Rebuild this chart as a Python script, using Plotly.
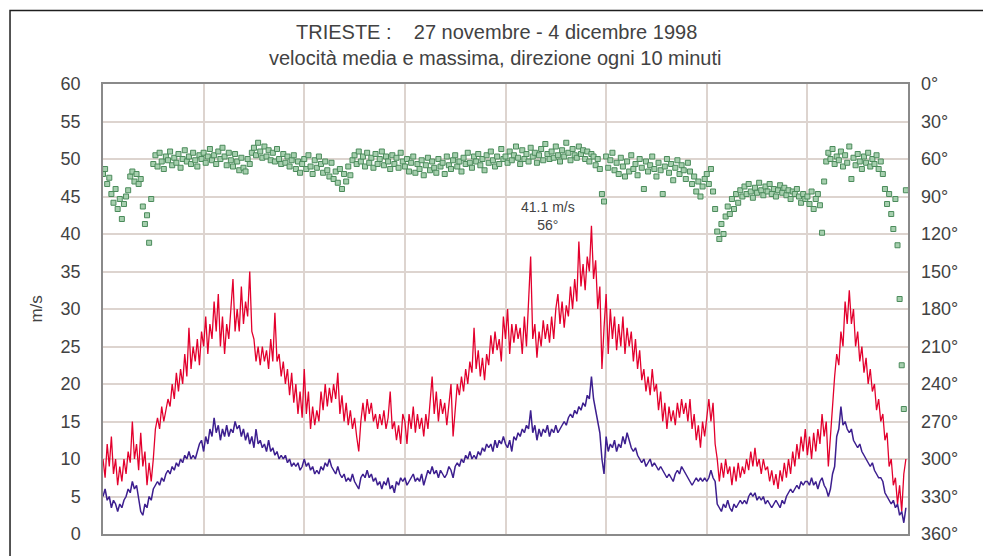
import numpy as np
import pandas as pd
import plotly.graph_objects as go

# Half-hourly samples, 27 Nov 1998 00:00 - 4 Dec 1998 23:30 (one row per day)
max_speed = [
    10, 7.5, 12, 9, 13, 8, 10, 6.5, 9, 7, 10, 8, 11, 9.5, 15, 10, 12, 8.5, 13.5, 9, 11, 6.5, 9.5, 7,
    10, 14, 15.5, 14, 17, 15, 16.5, 18, 17, 20, 18, 21.5, 19, 22, 20, 24, 21, 27.5, 22, 25, 23, 26, 22.5, 27,
    25, 29, 24, 28, 26, 31, 27, 32, 25, 29, 24, 28, 26, 30, 34, 27, 30, 27, 33, 28, 31, 29, 35, 27,
    26, 23, 25, 22.5, 25, 23, 24.5, 22, 26, 23, 29.5, 23, 24, 21, 23, 20, 22, 18.5, 21.5, 17.5, 20, 16, 19, 15.5,
    22, 16, 19, 14, 17, 14.5, 16.5, 15, 19, 16.5, 20, 17, 19.5, 17.5, 20, 18, 21.5, 16, 18.5, 15, 17.5, 14.5, 16.5, 14,
    15.5, 13, 11, 15, 17.5, 15, 18, 16, 17.5, 15, 16, 14, 16, 14.5, 16.5, 14, 15.5, 19, 14, 15, 12.5, 14.5, 12, 16,
    15, 12, 16, 14, 17, 13.5, 16, 14, 15.5, 13, 16, 14, 17, 21, 16, 19, 15, 18, 16, 17.5, 14.5, 17, 20, 13,
    17, 20, 18.5, 21, 19, 22, 20, 23, 21.5, 27.5, 22, 24.5, 21, 23.5, 20.5, 24, 22.5, 26.5, 24, 27, 24.5, 26, 23, 29,
    26, 30, 24, 28, 25.5, 28, 26, 27.5, 24, 29, 25, 31, 37, 26, 28, 23.5, 27, 25, 28.5, 26, 28, 25.5, 29, 26,
    30, 32, 28, 31, 27.5, 30.5, 29, 33, 30, 34, 31, 39, 33, 36, 32.5, 37, 35, 41.1, 34, 36.5, 30, 33, 22, 27.5,
    32, 24, 30, 26, 29, 24.5, 28, 25, 29, 24, 27.5, 25, 27, 23, 26, 22, 24.5, 20.5, 22, 19, 21, 18.5, 22, 19,
    20, 16.5, 19, 15, 17.5, 14, 17, 15, 16.5, 14.5, 17.5, 15.5, 18, 16, 17.5, 15, 18, 14, 16, 12.5, 14.5, 11.5, 15, 13,
    16, 18, 15, 17.5, 12, 10, 7, 9.5, 7.5, 10, 8, 9, 6.5, 9, 7, 9.5, 7.5, 9, 8, 10, 8.5, 11, 9, 11.5,
    9, 10, 8, 10, 8.5, 9, 7, 8.5, 6.5, 8, 6, 8.5, 7, 9.5, 7.5, 10, 8, 11, 9, 12, 10, 13, 11, 14,
    10.5, 13, 10, 13.5, 11, 14, 12, 16, 13, 15, 9, 13, 18, 21, 24, 22.5, 27, 25, 31, 28, 32.5, 28, 30, 25,
    27, 23, 25, 21.5, 23.5, 20, 22, 19, 20, 16.5, 18, 15, 16, 12.5, 13.5, 9, 10, 6.5, 7.5, 4, 6.5, 3, 8, 10,
]

mean_speed = [
    5, 6, 4.5, 5, 3.5, 4.5, 4, 3, 4, 3.5, 4.5, 5, 6, 5.5, 7, 6, 6.5, 5, 3, 2.5, 4, 3.5, 5, 4.5,
    6, 6.5, 7, 6.5, 7.5, 7, 8, 8.5, 8, 9, 8.5, 9.5, 9, 10, 9.5, 10.5, 10, 11, 10, 10.5, 10, 11, 12, 12.5,
    11, 13, 12, 14, 13, 15.5, 13.5, 14.5, 12.5, 14, 13, 14.5, 13, 14, 13.5, 15, 14, 14.5, 13, 14, 12.5, 13.5, 12, 13,
    11.5, 14, 12, 12.5, 11.5, 12, 11, 12.5, 11, 11.5, 10.5, 11, 10, 10.5, 10, 10.5, 9.5, 10, 9, 9.5, 9, 9.5, 8.5, 9,
    10, 9, 9.5, 8.5, 9, 8, 8.5, 8, 9, 8.5, 9.5, 9, 10, 9, 8.5, 8, 9, 8, 7.5, 8, 7, 7.5, 7, 8,
    7, 6.5, 6, 7.5, 8, 7.5, 8.5, 7.5, 8, 7, 7.5, 6.5, 7, 6, 7, 6.5, 7.5, 6, 6.5, 5.5, 7, 6.5, 7.5, 7,
    7.5, 6.5, 7, 7.5, 8, 7, 7.5, 7, 8, 6.5, 7.5, 8.5, 8, 9, 8, 8.5, 7.5, 8.5, 8, 7.5, 8, 9, 8.5, 7.5,
    9, 9.5, 9, 10, 9.5, 10.5, 10, 11, 10, 10.5, 10, 11, 10.5, 11.5, 11, 12, 11.5, 12, 11, 12.5, 11.5, 12.5, 12, 13,
    12, 11.5, 12.5, 11, 13, 12.5, 13.5, 13, 14, 13.5, 14.5, 14, 16.5, 13.5, 14.5, 12.5, 14, 13, 14, 13.5, 14.5, 13, 14, 13.5,
    14.5, 13.5, 14, 14.5, 15, 14.5, 15.5, 16, 15.5, 16.5, 16, 17, 16.5, 17.5, 17, 18.5, 18, 21, 18, 16.5, 15, 13.5, 10, 8,
    13, 11, 12, 11.5, 12.5, 11, 12, 11.5, 13, 12, 13.5, 12.5, 11.5, 11, 11.5, 10.5, 10, 9.5, 10, 9, 9.5, 10, 9, 9.5,
    9, 8.5, 9, 8.5, 8, 7.5, 8, 7.5, 7, 8, 8.5, 8, 9, 8.5, 8, 7.5, 7, 6.5, 7, 7.5, 7, 7.5, 7, 7.5,
    7, 7.5, 8.5, 7.5, 7, 4, 3.5, 3, 4, 3.5, 4.5, 3.5, 3, 4, 3.5, 4, 4.5, 4, 4.5, 4, 5, 5.5, 5, 5.5,
    4.5, 5, 4.5, 5, 4, 4.5, 4, 3.5, 4, 4.5, 4, 3.5, 4.5, 4, 5, 5.5, 6, 5.5, 6, 6.5, 6, 7, 6.5, 7,
    7, 6.5, 7.5, 6.5, 7, 6, 7, 7.5, 6.5, 6, 5, 6, 8, 9, 13, 14, 17, 14.5, 15, 14, 13.5, 14, 12.5, 12,
    11.5, 12, 11, 10.5, 10, 9.5, 9, 9.5, 8.5, 8, 7.5, 7.5, 7, 5.5, 5, 4.5, 4, 4.5, 3.5, 4, 2.5, 3, 1.5, 3.5,
]

# wind direction in degrees (0 = N, clockwise)
direction = [
    72, 68, 80, 75, 88, 95, 84, 100, 92, 108, 96, 90, 85, 74, 70, 78, 72, 80, 76, 98, 112, 105, 127, 92,
    64, 57, 66, 55, 62, 68, 58, 61, 54, 65, 59, 63, 56, 67, 60, 53, 62, 58, 64, 55, 61, 66, 57, 60,
    55, 63, 58, 52, 61, 57, 64, 54, 60, 51, 58, 65, 55, 61, 66, 56, 62, 69, 59, 67, 70, 60, 64, 55,
    51, 57, 47, 54, 59, 50, 58, 53, 61, 55, 62, 52, 60, 64, 56, 63, 58, 66, 61, 57, 68, 62, 71, 64,
    60, 68, 57, 66, 72, 61, 67, 58, 64, 71, 62, 69, 74, 63, 76, 70, 79, 68, 84, 72, 78, 66, 73, 61,
    57, 64, 54, 62, 58, 66, 55, 63, 59, 67, 56, 64, 60, 54, 65, 58, 62, 68, 57, 64, 59, 67, 55, 62,
    66, 60, 70, 63, 58, 71, 64, 68, 61, 73, 65, 59, 69, 62, 67, 71, 60, 66, 63, 72, 58, 65, 68, 61,
    57, 66, 62, 70, 59, 64, 55, 63, 67, 58, 62, 56, 65, 60, 69, 57, 63, 54, 61, 66, 58, 64, 52, 60,
    58, 63, 54, 61, 57, 50, 59, 64, 53, 60, 56, 62, 51, 58, 55, 63, 57, 52, 61, 48, 56, 60, 54, 59,
    50, 57, 62, 53, 58, 47, 55, 61, 52, 57, 59, 50, 56, 53, 60, 54, 62, 56, 58, 65, 60, 68, 88, 94,
    58, 67, 61, 55, 69, 63, 72, 59, 66, 74, 62, 70, 57, 68, 64, 73, 60, 67, 84, 62, 70, 65, 58, 68,
    74, 63, 69, 88, 66, 60, 71, 64, 77, 67, 61, 72, 65, 69, 76, 63, 70, 80, 74, 86, 78, 90, 82, 76,
    72, 80, 68, 86, 100, 118, 124, 112, 120, 106, 98, 104, 92, 100, 88, 95, 85, 90, 82, 88, 80, 86, 91, 83,
    87, 79, 85, 89, 82, 86, 80, 88, 84, 90, 85, 81, 87, 83, 89, 85, 92, 86, 88, 84, 90, 95, 88, 92,
    90, 96, 86, 100, 92, 88, 97, 119, 78, 62, 55, 60, 52, 64, 58, 61, 54, 66, 57, 63, 50, 76, 59, 65,
    56, 62, 68, 58, 63, 55, 66, 60, 64, 57, 68, 62, 72, 84, 96, 88, 104, 116, 92, 129, 172, 225, 260, 85,
]

times = pd.date_range("1998-11-27 00:00", periods=len(max_speed), freq="30min")

title_main = "TRIESTE :\u00a0\u00a0\u00a0 27 novembre - 4 dicembre 1998"
title_sub = "velocità media e massima, direzione ogni 10 minuti"
speed_ticks = list(range(0, 61, 5))
dir_ticks = list(range(0, 361, 30))

FONT = "Liberation Sans, Arial, sans-serif"
TXT = "#424242"
GRID = "#ddd4cf"

fig = go.Figure()

fig.add_trace(go.Scatter(
    x=times, y=direction, yaxis="y2", mode="markers", name="direzione",
    marker=dict(symbol="square", size=5, color="#a6cfae",
                line=dict(color="#4b8b5b", width=1)),
))
fig.add_trace(go.Scatter(
    x=times, y=max_speed, mode="lines", name="velocità massima",
    line=dict(color="#e3002d", width=1.3),
))
fig.add_trace(go.Scatter(
    x=times, y=mean_speed, mode="lines", name="velocità media",
    line=dict(color="#3d1f8f", width=1.5),
))

# label of the absolute maximum gust with its direction
imax = int(np.argmax(max_speed))
fig.add_annotation(
    x=pd.Timestamp("1998-12-01 10:10"), y=42.4, xref="x", yref="y",
    text=f"{max_speed[imax]:.1f} m/s<br>{direction[imax]:.0f}°",
    showarrow=False, yanchor="middle", font=dict(family=FONT, size=14, color=TXT),
)

# titles
fig.add_annotation(x=0.4894, y=1.1148, xref="paper", yref="paper", text=title_main,
                   showarrow=False, yanchor="middle",
                   font=dict(family=FONT, size=20, color=TXT))
fig.add_annotation(x=0.4870, y=1.0574, xref="paper", yref="paper", text=title_sub,
                   showarrow=False, yanchor="middle",
                   font=dict(family=FONT, size=20, color=TXT))
fig.add_annotation(x=-0.082, y=0.501, xref="paper", yref="paper", text="m/s",
                   textangle=-90, showarrow=False, yanchor="middle", xanchor="center",
                   font=dict(family=FONT, size=17, color=TXT))

# outer chart frame
fig.add_shape(type="rect", xref="paper", yref="paper",
              x0=-0.1155, x1=1.12, y0=-0.08, y1=1.1634,
              line=dict(color="#1e1e1e", width=1.5), layer="below")

fig.update_layout(
    width=983, height=556,
    margin=dict(l=103, r=75, t=84, b=19),
    paper_bgcolor="white", plot_bgcolor="white",
    showlegend=False,
    font=dict(family=FONT, color=TXT),
    xaxis=dict(
        type="date", range=["1998-11-27 00:00", "1998-12-05 00:00"],
        dtick=86400000, tick0="1998-11-27",
        showgrid=True, gridcolor=GRID, gridwidth=1.5,
        showticklabels=False, ticks="",
        showline=True, linecolor="#8a8a8a", linewidth=1.5, mirror=True,
        zeroline=False,
    ),
    yaxis=dict(
        range=[0, 60], tickvals=speed_ticks,
        showgrid=True, gridcolor=GRID, gridwidth=1.5,
        showline=True, linecolor="#8a8a8a", linewidth=1.5, mirror=True,
        ticks="", tickfont=dict(size=18, color=TXT), ticklabelstandoff=17,
        zeroline=False,
    ),
    yaxis2=dict(
        overlaying="y", side="right", range=[360, 0], tickvals=dir_ticks,
        ticktext=[f"{d}°" for d in dir_ticks],
        showgrid=False, ticks="", tickfont=dict(size=18, color=TXT),
        ticklabelstandoff=12, zeroline=False, showline=False,
    ),
)

fig.write_html("out.html")
